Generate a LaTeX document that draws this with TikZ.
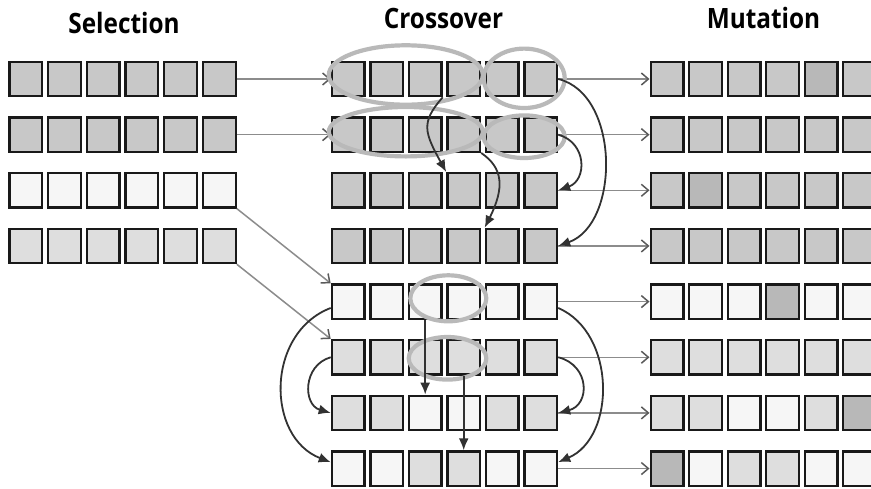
\documentclass[tikz,border=0pt]{standalone}
\usepackage{fontspec}
\newfontfamily\headfont[FakeStretch=0.87]{Open Sans}
\usetikzlibrary{arrows.meta,calc}
\definecolor{gD}{RGB}{200,200,200}
\definecolor{gM}{RGB}{222,222,222}
\definecolor{gL}{RGB}{246,246,246}
\definecolor{gX}{RGB}{184,184,184}
\definecolor{cellborder}{RGB}{25,25,25}
\definecolor{connGray}{RGB}{140,140,140}
\definecolor{tipGray}{RGB}{90,90,90}
\definecolor{ringGray}{RGB}{185,185,185}
\definecolor{arcDark}{RGB}{50,50,50}
\newcommand\genrow[5]{% prefix, first x, pitch, row, colours
  \foreach \col [count=\i] in {#5} {
    \node[cell, fill=\col] (#1#4-\i) at ({#2+#3*(\i-1)}, {79+55.65*(#4-1)}) {};
  }}
\begin{document}
\begin{tikzpicture}[x=1pt,y=-1pt,
  cell/.style={draw=cellborder, line width=2.3pt, minimum width=32.7pt, minimum height=34.3pt, inner sep=0pt},
  head/.style={font=\headfont\bfseries\fontsize{28}{30}\selectfont, anchor=base, inner sep=0pt},
  garrow/.style={draw=connGray, line width=1.5pt, -{Straight Barb[length=7pt,width=12pt,color=tipGray]}},
  ring/.style={draw=ringGray, line width=4.2pt},
  darc/.style={draw=arcDark, line width=1.8pt, -{Latex[length=12pt,width=10pt]}}]
\useasboundingbox (0,0) rectangle (871,488);
\fill[white] (0,0) rectangle (871,488);
% headings
\node[head] (hsel) at (124,33) {Selection};
\node[head] (hcro) at (443.5,28.3) {Crossover};
\node[head] (hmut) at (763.5,28.3) {Mutation};
% selection column
\genrow{s}{25.8}{38.7}{1}{gD,gD,gD,gD,gD,gD}
\genrow{s}{25.8}{38.7}{2}{gD,gD,gD,gD,gD,gD}
\genrow{s}{25.8}{38.7}{3}{gL,gL,gL,gL,gL,gL}
\genrow{s}{25.8}{38.7}{4}{gM,gM,gM,gM,gM,gM}
% crossover column
\genrow{c}{348.2}{38.5}{1}{gD,gD,gD,gD,gD,gD}
\genrow{c}{348.2}{38.5}{2}{gD,gD,gD,gD,gD,gD}
\genrow{c}{348.2}{38.5}{3}{gD,gD,gD,gD,gD,gD}
\genrow{c}{348.2}{38.5}{4}{gD,gD,gD,gD,gD,gD}
\genrow{c}{348.2}{38.5}{5}{gL,gL,gL,gL,gL,gL}
\genrow{c}{348.2}{38.5}{6}{gM,gM,gM,gM,gM,gM}
\genrow{c}{348.2}{38.5}{7}{gM,gM,gL,gL,gM,gM}
\genrow{c}{348.2}{38.5}{8}{gL,gL,gM,gM,gL,gL}
% mutation column
\genrow{m}{667}{38.5}{1}{gD,gD,gD,gD,gX,gD}
\genrow{m}{667}{38.5}{2}{gD,gD,gD,gD,gD,gD}
\genrow{m}{667}{38.5}{3}{gD,gX,gD,gD,gD,gD}
\genrow{m}{667}{38.5}{4}{gD,gD,gD,gD,gD,gD}
\genrow{m}{667}{38.5}{5}{gL,gL,gL,gX,gL,gL}
\genrow{m}{667}{38.5}{6}{gM,gM,gM,gM,gM,gM}
\genrow{m}{667}{38.5}{7}{gM,gM,gL,gL,gM,gX}
\genrow{m}{667}{38.5}{8}{gX,gL,gM,gM,gL,gL}
% selection -> crossover
\draw[garrow] (s1-6.east) -- (c1-1.west);
\draw[garrow] (s2-6.east) -- (c2-1.west);
\draw[garrow] (s3-6.south east) -- (c5-1.north west);
\draw[garrow] (s4-6.south east) -- (c6-1.north west);
% crossover -> mutation
\foreach \r in {1,...,8} {
  \draw[garrow] (c\r-6.east) -- (m\r-1.west);
}
% crossover rings
\draw[ring] (405.8,75) ellipse [x radius=77, y radius=29.7];
\draw[ring] (524.2,78.3) ellipse [x radius=40.5, y radius=29.7];
\draw[ring] (405.8,131.7) ellipse [x radius=77, y radius=24.7];
\draw[ring] (524.2,136.7) ellipse [x radius=40.5, y radius=21.3];
\draw[ring] (448.3,298.3) ellipse [x radius=38, y radius=23];
\draw[ring] (447.5,358.3) ellipse [x radius=38.8, y radius=21.3];
% crossover arcs (top pair)
\draw[darc] (c1-3.south east) .. controls +(-22,25) and +(-22,-40) .. (c3-4.north west);
\draw[darc] (c2-4.south east) .. controls +(22,15) and +(20,-40) .. (c4-5.north west);
\draw[darc] (c1-6.east) .. controls +(62,15) and +(62,-22) .. (c4-6.east);
\draw[darc] (c2-6.east) .. controls +(29,8) and +(29,-10) .. (c3-6.east);
% crossover arcs (bottom pair)
\draw[darc] (c5-3.south) -- (c7-3.north);
\draw[darc] (c6-4.south) -- (c8-4.north);
\draw[darc] (c5-1.200) .. controls +(-65,25) and +(-65,-25) .. (c8-1.160);
\draw[darc] (c6-1.west) .. controls +(-28,8) and +(-28,-8) .. (c7-1.west);
\draw[darc] (c5-6.340) .. controls +(58,25) and +(58,-25) .. (c8-6.20);
\draw[darc] (c6-6.east) .. controls +(32,8) and +(32,-8) .. (c7-6.east);
\end{tikzpicture}
\end{document}
